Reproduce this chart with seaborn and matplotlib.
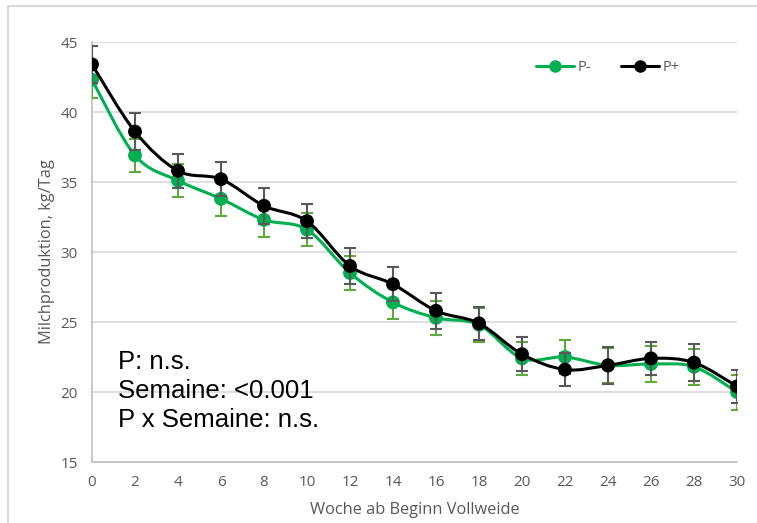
import matplotlib.pyplot as plt
import matplotlib.patches as mpatches
from matplotlib.path import Path
from matplotlib.lines import Line2D
import numpy as np
import pandas as pd
import seaborn as sns

# Data
weeks = [0, 2, 4, 6, 8, 10, 12, 14, 16, 18, 20, 22, 24, 26, 28, 30]
p_minus = [42.3, 36.9, 35.1, 33.8, 32.3, 31.6, 28.5, 26.4, 25.3, 24.8, 22.4, 22.5, 21.9, 22.0, 21.8, 20.0]
p_minus_err = [1.3, 1.2, 1.2, 1.2, 1.2, 1.2, 1.2, 1.15, 1.2, 1.2, 1.2, 1.2, 1.25, 1.3, 1.3, 1.25]
p_plus = [43.4, 38.6, 35.8, 35.2, 33.3, 32.2, 29.0, 27.7, 25.8, 24.9, 22.7, 21.6, 21.9, 22.4, 22.1, 20.4]
p_plus_err = [1.3, 1.3, 1.2, 1.2, 1.3, 1.2, 1.3, 1.2, 1.3, 1.2, 1.2, 1.2, 1.3, 1.2, 1.3, 1.2]
groups = ['P-', 'P+']
colors = {'P-': '#00b050', 'P+': '#000000'}
err_colors = {'P-': '#5eaa3c', 'P+': '#595959'}
stats_text = ['P: n.s.', 'Semaine: <0.001', 'P x Semaine: n.s.']

df = pd.DataFrame({
    'Woche': weeks * 2,
    'Milch': p_minus + p_plus,
    'Err': p_minus_err + p_plus_err,
    'Gruppe': ['P-'] * len(weeks) + ['P+'] * len(weeks),
})

sns.set_theme(style='white')
plt.rcParams['font.family'] = ['Open Sans', 'DejaVu Sans']


def smooth_path(x, y):
    # Excel-style smoothed line: cubic Bezier through the points
    pts = np.column_stack([x, y]).astype(float)
    ext = np.vstack([pts[0], pts, pts[-1]])
    verts = [pts[0]]
    codes = [Path.MOVETO]
    for i in range(len(pts) - 1):
        p0, p1, p2, p3 = ext[i], ext[i + 1], ext[i + 2], ext[i + 3]
        verts += [p1 + (p2 - p0) / 6, p2 - (p3 - p1) / 6, p2]
        codes += [Path.CURVE4] * 3
    return Path(verts, codes)


fig = plt.figure(figsize=(7.57, 5.23), dpi=100)
ax = fig.add_axes([92 / 757, 61 / 523, 645 / 757, 420 / 523])

for k, g in enumerate(groups):
    sub = df[df['Gruppe'] == g]
    ax.errorbar(sub['Woche'], sub['Milch'], yerr=sub['Err'], fmt='none',
                ecolor=err_colors[g], elinewidth=1.5, capsize=4, capthick=1.5, zorder=3 + k * 3)
    ax.add_patch(mpatches.PathPatch(smooth_path(sub['Woche'], sub['Milch']), facecolor='none',
                                    edgecolor=colors[g], lw=2.2, zorder=4 + k * 3))
    sns.scatterplot(data=sub, x='Woche', y='Milch', color=colors[g], s=100, edgecolor='none',
                    legend=False, ax=ax, zorder=5 + k * 3)

ax.set_xlim(0, 30)
ax.set_ylim(15, 45)
ax.set_xticks(weeks)
ax.set_yticks(np.arange(15, 46, 5))
ax.yaxis.grid(True, color='#d9d9d9', lw=1.2)
ax.xaxis.grid(False)
for s in ['top', 'right']:
    ax.spines[s].set_visible(False)
for s in ['left', 'bottom']:
    ax.spines[s].set_color('#bfbfbf')
    ax.spines[s].set_linewidth(1.2)
ax.tick_params(axis='both', length=0, labelsize=11, labelcolor='#595959')
ax.tick_params(axis='x', pad=9)
ax.tick_params(axis='y', pad=10)
ax.set_xlabel('Woche ab Beginn Vollweide', fontsize=11.8, color='#595959', labelpad=9)
ax.set_ylabel('Milchproduktion, kg/Tag', fontsize=11.8, color='#595959', labelpad=4)

handles = [Line2D([], [], color=colors[g], lw=2.2, marker='o', markersize=8) for g in groups]
leg = ax.legend(handles, groups, loc='upper right', bbox_to_anchor=(0.932, 0.988), ncol=2,
                frameon=False, fontsize=10.5, handlelength=2.6, columnspacing=2.0, handletextpad=0.3)
for t in leg.get_texts():
    t.set_color('#595959')

for i, line in enumerate(stats_text):
    ax.text(0.04, 0.238 - i * 0.069, line, transform=ax.transAxes, fontsize=18.5,
            family=['Liberation Sans', 'DejaVu Sans'], color='#000000', va='center', zorder=2)

# chart border
fig.add_artist(Line2D([8 / 757, 8 / 757], [0, 1 - 6 / 523], color='#d9d9d9', lw=1.5))
fig.add_artist(Line2D([8 / 757, 1], [1 - 6 / 523, 1 - 6 / 523], color='#d9d9d9', lw=1.5))

plt.savefig('out.png', dpi=100)
